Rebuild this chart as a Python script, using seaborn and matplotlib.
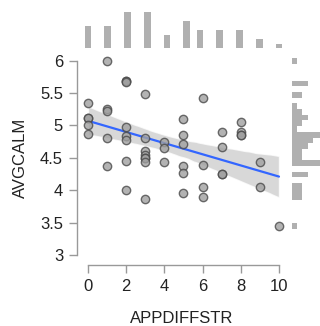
import numpy as np
import pandas as pd
import matplotlib
matplotlib.use("Agg")
import matplotlib.pyplot as plt
import seaborn as sns

# Data
appdiffstr = [0, 0, 0, 0, 0,
              1, 1, 1, 1, 1,
              2, 2, 2, 2, 2, 2, 2, 2,
              3, 3, 3, 3, 3, 3, 3, 3,
              4, 4, 4,
              5, 5, 5, 5, 5, 5,
              6, 6, 6, 6,
              7, 7, 7, 7,
              8, 8, 8, 8,
              9, 9,
              10]
avgcalm = [5.34, 5.11, 5.11, 5.01, 4.87,
           6.00, 5.25, 5.22, 4.80, 4.38,
           5.69, 5.69, 5.67, 4.97, 4.83, 4.78, 4.45, 4.00,
           5.49, 4.80, 4.60, 4.55, 4.50, 4.50, 4.44, 3.87,
           4.75, 4.65, 4.43,
           5.10, 4.86, 4.71, 4.375, 4.27, 3.95,
           5.43, 4.39, 4.05, 3.90,
           4.90, 4.67, 4.25, 4.25,
           5.06, 4.895, 4.85, 4.85,
           4.44, 4.05,
           3.45]
x_ticks = [0, 2, 4, 6, 8, 10]
y_ticks = [3, 3.5, 4, 4.5, 5, 5.5, 6]
y_ticklabels = ["3", "3.5", "4", "4.5", "5", "5.5", "6"]

df = pd.DataFrame({"APPDIFFSTR": appdiffstr, "AVGCALM": avgcalm})

sns.set_style("white")
plt.rcParams["font.family"] = ["Liberation Sans", "DejaVu Sans"]

W, H = 320, 326
fig = plt.figure(figsize=(W / 100, H / 100), dpi=100)

def frac(l, r, b, t):
    return [l / W, 1 - b / H, (r - l) / W, (b - t) / H]

ax = fig.add_axes(frac(77, 287, 265, 50))
ax_top = fig.add_axes(frac(77, 287, 48, 10))
ax_right = fig.add_axes(frac(291.7, 320, 265, 50))

XLIM = (-0.576, 10.42)
YLIM = (2.846, 6.165)

# main scatter + regression
sns.regplot(data=df, x="APPDIFFSTR", y="AVGCALM", ax=ax, scatter=False, ci=95,
            color="#3366FF", line_kws={"lw": 1.6}, truncate=True)
for coll in ax.collections:
    coll.set_facecolor("#cccccc")
    coll.set_alpha(0.75)
sns.scatterplot(data=df, x="APPDIFFSTR", y="AVGCALM", ax=ax, s=36,
                color="#a0a0a0", edgecolor="#4a4a4a", linewidth=1.0, alpha=0.8,
                zorder=3)

ax.set_xticks(x_ticks)
ax.set_yticks(y_ticks)
ax.set_yticklabels(y_ticklabels)
for s in ["top", "right"]:
    ax.spines[s].set_visible(False)
for s in ["left", "bottom"]:
    ax.spines[s].set_visible(True)
    ax.spines[s].set_color("#999999")
    ax.spines[s].set_linewidth(1.0)
ax.spines["left"].set_bounds(3, 6)
ax.spines["bottom"].set_bounds(0, 10)
ax.tick_params(axis="both", which="major", length=5.5, width=1.0, color="#999999",
               labelsize=12, labelcolor="#222222", pad=4.5, direction="out",
               left=True, bottom=True)
ax.set_xlabel("APPDIFFSTR", fontsize=12, color="#222222")
ax.set_ylabel("AVGCALM", fontsize=12, color="#222222")
ax.xaxis.set_label_coords(0.5, -0.215)
ax.yaxis.set_label_coords(-0.235, 0.5)

# top marginal histogram (ggplot-like 30 bins)
xw = (max(appdiffstr) - min(appdiffstr)) / 29
xbins = min(appdiffstr) - xw / 2 + xw * np.arange(31)
sns.histplot(data=df, x="APPDIFFSTR", ax=ax_top, bins=xbins, shrink=1,
             color="#b0b0b0", edgecolor="none", alpha=1)
ax_top.set_xlim(XLIM)
ax_top.set_ylim(0, 8.45)
ax_top.axis("off")

# right marginal histogram (ggplot-like 30 bins)
yw = (max(avgcalm) - min(avgcalm)) / 29
ybins = min(avgcalm) - yw / 2 + yw * np.arange(31)
sns.histplot(data=df, y="AVGCALM", ax=ax_right, bins=ybins,
             color="#b0b0b0", edgecolor="none", alpha=1)
ax_right.set_xlim(0, 5.3)
ax_right.set_ylim(YLIM)
ax_right.axis("off")

ax.set_xlim(XLIM)
ax.set_ylim(YLIM)

fig.savefig("out.png", dpi=100)
